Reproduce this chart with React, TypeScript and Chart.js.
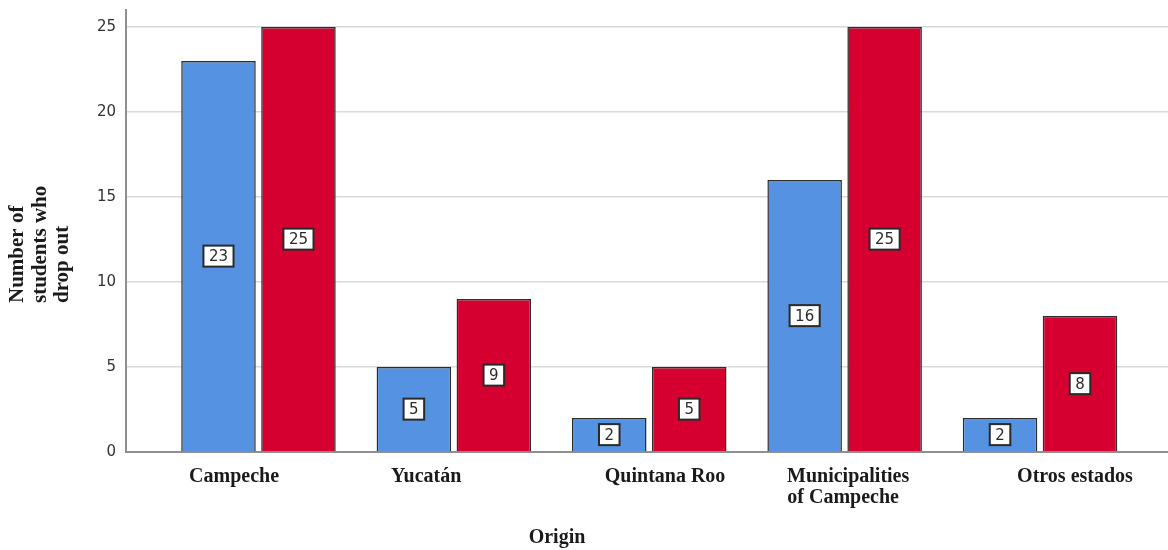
import React, { useEffect, useRef } from "react";
import { Chart, registerables } from "chart.js";

Chart.register(...registerables);

// ---- data ----
const categories: string[] = ["Campeche", "Yucatán", "Quintana Roo", "Municipalities of Campeche", "Otros estados"];
const tickLabels: (string | string[])[] = ["Campeche", "Yucatán", "Quintana Roo", ["Municipalities", "of Campeche  "], "Otros estados"];
const seriesA: number[] = [23, 5, 2, 16, 2];
const seriesB: number[] = [25, 9, 5, 25, 8];
const yTicks: number[] = [0, 5, 10, 15, 20, 25];
const yTitleLines: string[] = ["Number of", "students who", "drop out"];
const xTitle = "Origin";

// tick label shifts (in category units) to mimic the reference's label placement
const labelShift: number[] = [-0.125, -0.142, 0.081, 0.018, 0.179];

const BLUE = "#5592e2";
const RED = "#d5002f";

const valueLabelsPlugin = {
  id: "valueLabels",
  afterDatasetsDraw(chart: any) {
    const ctx = chart.ctx;
    ctx.save();
    ctx.font = "15px 'DejaVu Sans'";
    ctx.textAlign = "center";
    ctx.textBaseline = "middle";
    chart.data.datasets.forEach((ds: any, di: number) => {
      const meta = chart.getDatasetMeta(di);
      meta.data.forEach((el: any, i: number) => {
        const { x, y, base } = el.getProps(["x", "y", "base"], true);
        const v = ds.data[i].y;
        const text = String(v);
        const cy = (y + base) / 2;
        const w = ctx.measureText(text).width + 11;
        const h = 21;
        ctx.fillStyle = "#ffffff";
        ctx.fillRect(x - w / 2, cy - h / 2, w, h);
        ctx.strokeStyle = "#2a2a2a";
        ctx.lineWidth = 2;
        ctx.strokeRect(x - w / 2, cy - h / 2, w, h);
        ctx.fillStyle = "#2a2a2a";
        ctx.fillText(text, x, cy + 1);
      });
    });
    ctx.restore();
  },
};

const titlesPlugin = {
  id: "axisTitles",
  afterDraw(chart: any) {
    const ctx = chart.ctx;
    const area = chart.chartArea;
    ctx.save();
    ctx.fillStyle = "#1a1a1a";
    ctx.font = "bold 21px 'Liberation Serif'";
    // y title, rotated, start-aligned
    ctx.translate(18, area.bottom - 149);
    ctx.rotate(-Math.PI / 2);
    ctx.textAlign = "left";
    ctx.textBaseline = "middle";
    yTitleLines.forEach((line, i) => ctx.fillText(line, 0, i * 22.5));
    ctx.restore();
    ctx.save();
    ctx.fillStyle = "#1a1a1a";
    ctx.font = "bold 20px 'Liberation Serif'";
    ctx.textAlign = "center";
    ctx.textBaseline = "middle";
    ctx.fillText(xTitle, 557, chart.height - 12);
    ctx.restore();
  },
};

export default function App() {
  const ref = useRef<HTMLCanvasElement | null>(null);
  useEffect(() => {
    if (!ref.current) return;
    const chart = new Chart(ref.current, {
      type: "bar",
      data: {
        datasets: [
          {
            label: "Group 1",
            data: seriesA.map((v, i) => ({ x: i, y: v })),
            backgroundColor: BLUE,
            borderColor: "#2b2b2b",
            borderWidth: 1.5,
            barPercentage: 0.932,
            categoryPercentage: 0.8736,
          },
          {
            label: "Group 2",
            data: seriesB.map((v, i) => ({ x: i, y: v })),
            backgroundColor: RED,
            borderColor: "#2b2b2b",
            borderWidth: 1.5,
            barPercentage: 0.932,
            categoryPercentage: 0.8736,
          },
        ],
      } as any,
      options: {
        responsive: false,
        animation: false,
        layout: { padding: { top: 10, right: 0, left: 0, bottom: 0 } },
        plugins: {
          legend: { display: false },
          tooltip: { enabled: false },
          title: { display: false },
        },
        scales: {
          x: {
            type: "linear",
            min: -0.678,
            max: 4.655,
            offset: false,
            grid: { display: false, drawTicks: false },
            border: { display: true, color: "#8f8f8f", width: 2 },
            afterBuildTicks: (axis: any) => {
              axis.ticks = categories.map((_, i) => ({ value: i + labelShift[i] }));
            },
            afterFit: (scale: any) => {
              scale.height = 98;
              scale.paddingLeft = 0;
              scale.paddingRight = 0;
            },
            ticks: {
              autoSkip: false,
              maxRotation: 0,
              minRotation: 0,
              padding: 14,
              color: "#1a1a1a",
              font: { family: "'Liberation Serif'", size: 20, weight: "bold", lineHeight: 1.05 },
              callback: (_v: any, index: number) => tickLabels[index],
            },
          },
          y: {
            type: "linear",
            min: 0,
            max: 26,
            grid: { color: "#d9d9d9", lineWidth: 1.5, drawTicks: false },
            border: { display: true, color: "#8f8f8f", width: 2 },
            afterBuildTicks: (axis: any) => {
              axis.ticks = yTicks.map((v) => ({ value: v }));
            },
            afterFit: (scale: any) => {
              scale.width = 126;
              scale.paddingTop = 0;
              scale.paddingBottom = 0;
            },
            ticks: {
              padding: 10,
              color: "#333333",
              font: { family: "'DejaVu Sans'", size: 15 },
            },
          },
        },
      } as any,
      plugins: [valueLabelsPlugin, titlesPlugin],
    });
    return () => chart.destroy();
  }, []);
  return (
    <div style={{ position: "fixed", left: 0, top: 0, width: 1168, height: 550, background: "#fff" }}>
      <canvas ref={ref} width={1168} height={550} style={{ width: 1168, height: 550, display: "block" }} />
    </div>
  );
}
